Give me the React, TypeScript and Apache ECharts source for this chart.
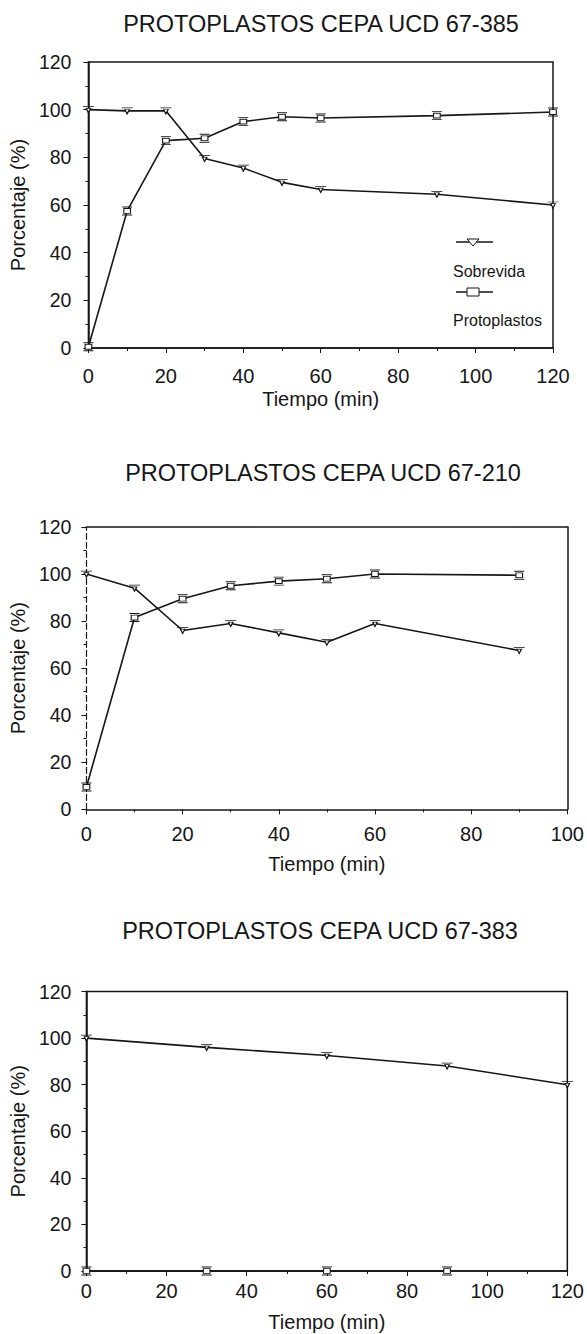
import React, { useEffect, useRef } from 'react';
import * as echarts from 'echarts';

const FONT = '"Liberation Sans", Arial, Helvetica, sans-serif';
const INK = '#161616';

// ---- data ----
const seriesNames = ['Sobrevida', 'Protoplastos'];
const yName = 'Porcentaje (%)';
const xName = 'Tiempo (min)';
const yTicks = [0, 20, 40, 60, 80, 100, 120];
const xTicks120 = [0, 20, 40, 60, 80, 100, 120];
const xTicks100 = [0, 20, 40, 60, 80, 100];

// Chart 1
const title1 = 'PROTOPLASTOS CEPA UCD 67-385';
const time1 = [0, 10, 20, 30, 40, 50, 60, 90, 120];
const sobrevida1 = [100, 99.5, 99.5, 79.5, 75.5, 69.5, 66.5, 64.5, 60];
const protoplastos1 = [0.5, 57.5, 87, 88, 95, 97, 96.5, 97.5, 99];

// Chart 2
const title2 = 'PROTOPLASTOS CEPA UCD 67-210';
const time2 = [0, 10, 20, 30, 40, 50, 60, 90];
const sobrevida2 = [100, 94, 76, 79, 75, 71, 79, 67.5];
const protoplastos2 = [9.5, 81.5, 89.5, 95, 97, 98, 100, 99.5];

// Chart 3
const title3 = 'PROTOPLASTOS CEPA UCD 67-383';
const time3 = [0, 30, 60, 90, 120];
const sobrevida3 = [100, 96, 92.5, 88, 80];
const time3p = [0, 30, 60, 90];
const protoplastos3 = [0, 0, 0, 0];

// ---- styling helpers ----
const SYM_SOB = 'path://M0,0L12,0M3.5,1.5L8.5,1.5L6,5.5Z';
const SYM_PRO = 'path://M0,0L12,0M0,10L12,10M2,2L10,2L10,8L2,8Z';

function xAxis(gridIndex: number, ticks: number[], margin: number, nameGap: number) {
  return {
    type: 'value',
    gridIndex,
    position: 'bottom',
    min: ticks[0],
    max: ticks[ticks.length - 1],
    interval: ticks[1] - ticks[0],
    name: xName,
    nameLocation: 'middle',
    nameGap,
    nameTextStyle: { fontFamily: FONT, fontSize: 20, color: INK },
    axisLine: { show: true, onZero: false, lineStyle: { color: INK, width: 1.5 } },
    axisTick: { show: true, inside: false, length: 5, lineStyle: { color: INK, width: 1 } },
    minorTick: { show: true, splitNumber: 2, length: 3, lineStyle: { color: INK, width: 1 } },
    axisLabel: { margin, fontFamily: FONT, fontSize: 20, color: INK },
    splitLine: { show: false },
    minorSplitLine: { show: false },
  };
}

function yAxis(gridIndex: number, ticks: number[], margin: number, nameGap: number, dashed = false) {
  return {
    type: 'value',
    gridIndex,
    position: 'left',
    min: ticks[0],
    max: ticks[ticks.length - 1],
    interval: ticks[1] - ticks[0],
    name: yName,
    nameLocation: 'middle',
    nameGap,
    nameTextStyle: { fontFamily: FONT, fontSize: 20, color: INK },
    axisLine: {
      show: true,
      onZero: false,
      lineStyle: { color: INK, width: dashed ? 1.2 : 1.5, type: dashed ? [6, 3] : 'solid' },
    },
    axisTick: { show: true, inside: false, length: 5, lineStyle: { color: INK, width: 1 } },
    minorTick: { show: true, splitNumber: 2, length: 3, lineStyle: { color: INK, width: 1 } },
    axisLabel: { margin, fontFamily: FONT, fontSize: 19.5, color: INK },
    splitLine: { show: false },
    minorSplitLine: { show: false },
  };
}

function frameAxis(kind: 'x' | 'y', gridIndex: number, ticks: number[]) {
  return {
    type: 'value',
    gridIndex,
    position: kind === 'x' ? 'top' : 'right',
    min: ticks[0],
    max: ticks[ticks.length - 1],
    interval: ticks[1] - ticks[0],
    axisLine: { show: true, onZero: false, lineStyle: { color: INK, width: 1.5 } },
    axisTick: { show: false },
    axisLabel: { show: false },
    splitLine: { show: false },
  };
}

function line(name: string, idx: number, times: number[], vals: number[], symbol: string, size: number[]) {
  return {
    type: 'line',
    name,
    xAxisIndex: idx,
    yAxisIndex: idx,
    data: times.map((t, i) => [t, vals[i]]),
    symbol,
    symbolSize: size,
    showSymbol: true,
    clip: false,
    silent: true,
    z: 3,
    lineStyle: { color: INK, width: 1.6 },
    itemStyle: { color: '#fff', borderColor: INK, borderWidth: 1 },
    emphasis: { disabled: true },
  };
}

function titleText(text: string, x: number, y: number) {
  return {
    type: 'text',
    x,
    y,
    style: { text, fontFamily: FONT, fontSize: 23.5, fill: INK, align: 'center', verticalAlign: 'middle' },
  };
}

function buildOption() {
  return {
    animation: false,
    backgroundColor: '#fff',
    grid: [
      { left: 80.5, top: 62, width: 472.5, height: 286, show: true, borderColor: INK, borderWidth: 1.5 },
      { left: 76.5, top: 527, width: 496, height: 282.3, show: false },
      { left: 71.5, top: 991.5, width: 499, height: 279.5, show: true, borderColor: INK, borderWidth: 1.5 },
    ],
    xAxis: [
      xAxis(0, xTicks120, 18, 41),
      xAxis(1, xTicks100, 15, 45),
      xAxis(2, xTicks120, 10, 41),
      frameAxis('x', 1, xTicks100),
    ],
    yAxis: [
      yAxis(0, yTicks, 17, 43),
      yAxis(1, yTicks, 15, 46, true),
      yAxis(2, yTicks, 15, 43),
      frameAxis('y', 1, yTicks),
    ],
    series: [
      line(seriesNames[0], 0, time1, sobrevida1, SYM_SOB, [11, 6]),
      line(seriesNames[1], 0, time1, protoplastos1, SYM_PRO, [10, 8]),
      line(seriesNames[0], 1, time2, sobrevida2, SYM_SOB, [11, 6]),
      line(seriesNames[1], 1, time2, protoplastos2, SYM_PRO, [10, 8]),
      line(seriesNames[0], 2, time3, sobrevida3, SYM_SOB, [11, 6]),
      line(seriesNames[1], 2, time3p, protoplastos3, SYM_PRO, [10, 8]),
    ],
    graphic: [
      titleText(title1, 321, 24),
      titleText(title2, 323, 473),
      titleText(title3, 320, 931),
      // legend of chart 1
      { type: 'line', shape: { x1: 456, y1: 242, x2: 493, y2: 242 }, style: { stroke: INK, lineWidth: 1.5 } },
      {
        type: 'polygon',
        shape: { points: [[467, 239], [479, 239], [473, 246]] },
        style: { fill: '#fff', stroke: INK, lineWidth: 1 },
      },
      {
        type: 'text',
        x: 453,
        y: 271,
        style: { text: seriesNames[0], fontFamily: FONT, fontSize: 16, fill: INK, align: 'left', verticalAlign: 'middle' },
      },
      { type: 'line', shape: { x1: 456, y1: 292, x2: 493, y2: 292 }, style: { stroke: INK, lineWidth: 1.5 } },
      {
        type: 'rect',
        shape: { x: 467, y: 288, width: 12, height: 8 },
        style: { fill: '#fff', stroke: INK, lineWidth: 1 },
      },
      {
        type: 'text',
        x: 453,
        y: 320,
        style: { text: seriesNames[1], fontFamily: FONT, fontSize: 16, fill: INK, align: 'left', verticalAlign: 'middle' },
      },
    ],
  };
}

export default function App() {
  const ref = useRef<HTMLDivElement>(null);
  useEffect(() => {
    if (!ref.current) return;
    const chart = echarts.init(ref.current, null, { renderer: 'svg' });
    chart.setOption(buildOption() as any);
    return () => chart.dispose();
  }, []);
  return (
    <div
      ref={ref}
      style={{ position: 'absolute', left: 0, top: 0, width: 587, height: 1334, background: '#fff' }}
    />
  );
}
